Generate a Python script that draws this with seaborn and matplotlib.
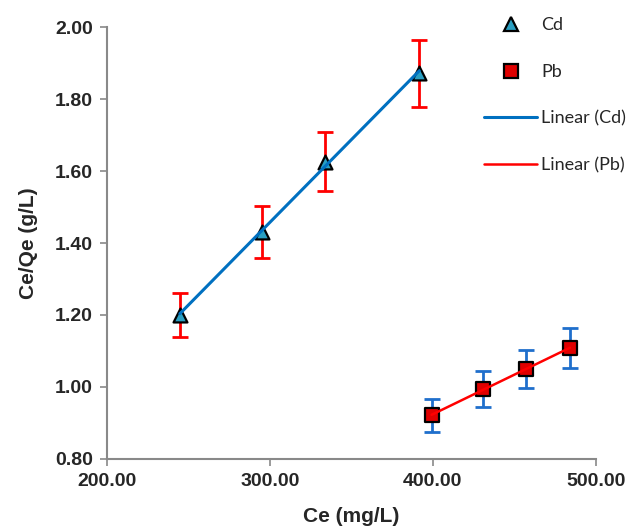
import numpy as np
import pandas as pd
import matplotlib
matplotlib.use("Agg")
import matplotlib.pyplot as plt
from matplotlib.lines import Line2D
import seaborn as sns

# Data
cd_ce = [244.8, 294.9, 333.7, 391.6]
cd_ceqe = [1.200, 1.431, 1.626, 1.871]
cd_err = [0.060, 0.073, 0.082, 0.094]

pb_ce = [399.2, 430.9, 457.1, 484.0]
pb_ceqe = [0.922, 0.994, 1.049, 1.109]
pb_err = [0.046, 0.050, 0.053, 0.056]

x_ticks = [200, 300, 400, 500]
y_ticks = [0.80, 1.00, 1.20, 1.40, 1.60, 1.80, 2.00]

cd_df = pd.DataFrame({"Ce": cd_ce, "CeQe": cd_ceqe})
pb_df = pd.DataFrame({"Ce": pb_ce, "CeQe": pb_ceqe})

sns.set_theme(style="white")
plt.rcParams['font.family'] = ['Liberation Sans', 'DejaVu Sans']

fig = plt.figure(figsize=(6.32, 5.30), dpi=100)
ax = fig.add_axes([0.169, 0.134, 0.774, 0.815])

gray = "#898989"
cd_line = "#0070c0"
pb_line = "#ff0000"
cd_fill = "#2a9fc2"
pb_fill = "#e00000"

# error bars
ax.errorbar(cd_ce, cd_ceqe, yerr=cd_err, fmt="none", ecolor="#ff0000",
            elinewidth=2, capsize=6, capthick=2, zorder=2)
ax.errorbar(pb_ce, pb_ceqe, yerr=pb_err, fmt="none", ecolor="#1f6fcc",
            elinewidth=2, capsize=6, capthick=2, zorder=2)

# markers
sns.scatterplot(data=cd_df, x="Ce", y="CeQe", marker="^", s=100,
                color=cd_fill, edgecolor="black", linewidth=1.6, ax=ax, zorder=3)
sns.scatterplot(data=pb_df, x="Ce", y="CeQe", marker="s", s=105,
                color=pb_fill, edgecolor="black", linewidth=1.6, ax=ax, zorder=3)

# linear trend lines
sns.regplot(data=cd_df, x="Ce", y="CeQe", scatter=False, ci=None, truncate=True,
            ax=ax, line_kws={"color": cd_line, "lw": 2.2, "zorder": 4})
sns.regplot(data=pb_df, x="Ce", y="CeQe", scatter=False, ci=None, truncate=True,
            ax=ax, line_kws={"color": pb_line, "lw": 1.8, "zorder": 4})

ax.set_xlim(200, 500)
ax.set_ylim(0.80, 2.00)
ax.set_xticks(x_ticks)
ax.set_yticks(y_ticks)
ax.set_xticklabels([f"{v:.2f}" for v in x_ticks], fontsize=14, fontweight="bold")
ax.set_yticklabels([f"{v:.2f}" for v in y_ticks], fontsize=14, fontweight="bold")
ax.set_xlabel("Ce (mg/L)", fontsize=15, fontweight="bold", labelpad=12)
ax.set_ylabel("Ce/Qe (g/L)", fontsize=15, fontweight="bold", labelpad=12)

for side in ["top", "right"]:
    ax.spines[side].set_visible(False)
for side in ["left", "bottom"]:
    ax.spines[side].set_color(gray)
    ax.spines[side].set_linewidth(1.5)
ax.tick_params(axis="both", which="both", direction="out", length=5, width=1.2,
               color=gray, bottom=True, left=True, pad=5)
for c in ax.collections:
    c.set_clip_on(False)

handles = [
    Line2D([], [], linestyle="none", marker="^", markersize=10,
           markerfacecolor=cd_fill, markeredgecolor="black", markeredgewidth=1.6),
    Line2D([], [], linestyle="none", marker="s", markersize=10,
           markerfacecolor=pb_fill, markeredgecolor="black", markeredgewidth=1.6),
    Line2D([], [], color=cd_line, lw=2.2),
    Line2D([], [], color=pb_line, lw=1.8),
]
labels = ["Cd", "Pb", "Linear (Cd)", "Linear (Pb)"]
fig.legend(handles, labels, loc="upper left", bbox_to_anchor=(0.755, 0.981),
           frameon=False, prop={"family": "Lato", "size": 13},
           handlelength=2.9, handletextpad=0.25, labelspacing=1.7,
           borderaxespad=0)

fig.savefig("out.png", dpi=100, facecolor="white")
